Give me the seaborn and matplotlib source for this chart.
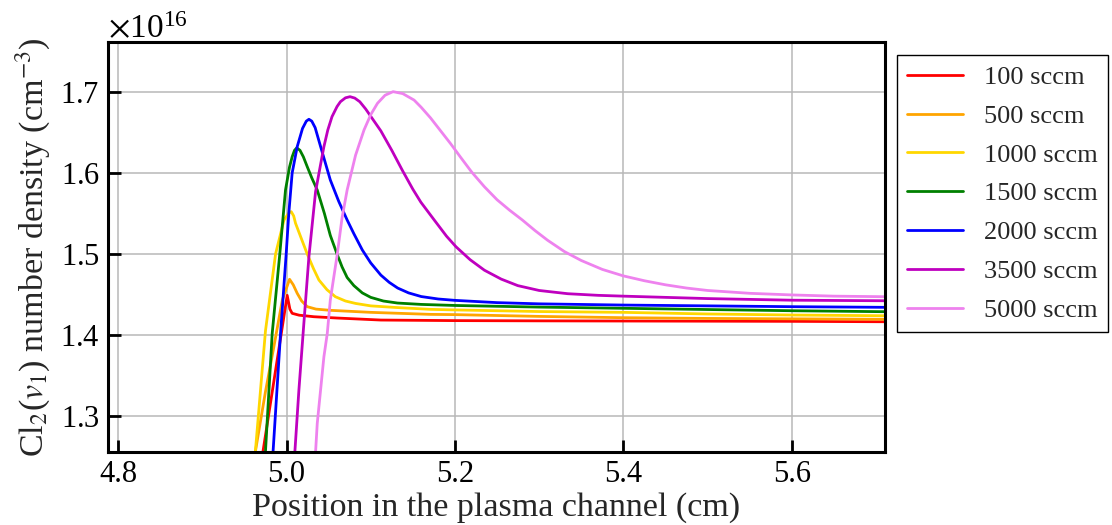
import matplotlib
matplotlib.use("Agg")
import matplotlib.pyplot as plt
import pandas as pd
import seaborn as sns

# Cl2(v1) density profiles along the channel, in units of 1e16 cm^-3
flows = ["100 sccm", "500 sccm", "1000 sccm", "1500 sccm",
         "2000 sccm", "3500 sccm", "5000 sccm"]
colors = ["red", "orange", "gold", "green", "blue", "m", "violet"]

x_100 = [4.965, 4.972, 4.985, 5.0008, 5.004, 5.0067, 5.015, 5.0325, 5.06,
         5.112, 5.2, 5.3, 5.4, 5.5, 5.6, 5.711]
y_100 = [1.20, 1.256, 1.343, 1.449, 1.432, 1.4268, 1.4245, 1.4226, 1.421,
         1.4185, 1.4178, 1.4175, 1.4173, 1.4171, 1.4169, 1.4164]

x_500 = [4.955, 4.963, 4.975, 4.985, 4.995, 5.0036, 5.008, 5.0127, 5.018,
         5.0246, 5.035, 5.052, 5.1, 5.171, 5.2, 5.3, 5.4, 5.5, 5.6, 5.711]
y_500 = [1.20, 1.256, 1.33, 1.3856, 1.4432, 1.4688, 1.462, 1.4515, 1.442,
         1.435, 1.432, 1.4305, 1.428, 1.4255, 1.4252, 1.423, 1.4214, 1.4205,
         1.420, 1.4194]

x_1000 = [4.955, 4.963, 4.975, 4.987, 4.997, 5.0026, 5.0056, 5.0085, 5.0107,
          5.018, 5.0246, 5.032, 5.0385, 5.048, 5.058, 5.07, 5.082, 5.1,
          5.13, 5.171, 5.2, 5.3, 5.4, 5.5, 5.6, 5.711]
y_1000 = [1.17, 1.256, 1.405, 1.5, 1.542, 1.5505, 1.5523, 1.547, 1.538,
          1.518, 1.5, 1.482, 1.4679, 1.456, 1.4473, 1.442, 1.439, 1.436,
          1.434, 1.4317, 1.431, 1.429, 1.428, 1.426, 1.4247, 1.4238]

x_1500 = [4.968, 4.975, 4.983, 4.992, 4.9988, 5.0035, 5.0067, 5.0095, 5.0122,
          5.016, 5.02, 5.0246, 5.03, 5.0365, 5.045, 5.052, 5.06, 5.066,
          5.072, 5.08, 5.09, 5.1, 5.115, 5.1317, 5.16, 5.2, 5.3, 5.4, 5.5,
          5.6, 5.711]
y_1500 = [1.12, 1.256, 1.402, 1.5, 1.579, 1.607, 1.620, 1.628, 1.631,
          1.628, 1.620, 1.6078, 1.594, 1.579, 1.55, 1.523, 1.5, 1.484,
          1.471, 1.461, 1.452, 1.4465, 1.442, 1.4395, 1.4378, 1.4365, 1.4345,
          1.433, 1.4315, 1.430, 1.4288]

x_2000 = [4.978, 4.984, 4.9929, 4.9996, 5.0027, 5.0067, 5.0127, 5.019,
          5.0235, 5.0266, 5.03, 5.034, 5.0405, 5.052, 5.062, 5.072, 5.08,
          5.09, 5.1, 5.112, 5.122, 5.132, 5.145, 5.16, 5.18, 5.2, 5.25,
          5.3, 5.4, 5.5, 5.6, 5.711]
y_2000 = [1.12, 1.2556, 1.402, 1.5, 1.550, 1.6, 1.6325, 1.655, 1.664,
          1.6663, 1.664, 1.656, 1.6325, 1.5914, 1.565, 1.542, 1.525,
          1.505, 1.489, 1.474, 1.465, 1.458, 1.452, 1.4475, 1.4445, 1.4428,
          1.440, 1.4385, 1.437, 1.436, 1.435, 1.4342]

x_3500 = [5.005, 5.0099, 5.0147, 5.0206, 5.0266, 5.0345, 5.04, 5.0444,
          5.049, 5.054, 5.06, 5.064, 5.07, 5.0754, 5.081, 5.087, 5.094,
          5.10, 5.112, 5.125, 5.1377, 5.15, 5.1595, 5.1754, 5.19, 5.2012,
          5.218, 5.235, 5.255, 5.2746, 5.30, 5.334, 5.37, 5.4, 5.45, 5.5,
          5.6, 5.711]
y_3500 = [1.16, 1.2556, 1.332, 1.4145, 1.4967, 1.577, 1.608, 1.6325,
          1.653, 1.6695, 1.682, 1.688, 1.6928, 1.6942, 1.6925, 1.688, 1.679,
          1.670, 1.652, 1.628, 1.603, 1.580, 1.564, 1.542, 1.522, 1.509,
          1.493, 1.480, 1.469, 1.461, 1.455, 1.451, 1.449, 1.448, 1.4465,
          1.445, 1.443, 1.4423]

x_5000 = [5.031, 5.0345, 5.0365, 5.0444, 5.0484, 5.052, 5.0603, 5.066, 5.072,
          5.082, 5.092, 5.1, 5.108, 5.117, 5.1265, 5.138, 5.1515, 5.16,
          5.171, 5.183, 5.195, 5.207, 5.22, 5.235, 5.25, 5.265, 5.28, 5.295,
          5.31, 5.33, 5.35, 5.375, 5.4, 5.425, 5.45, 5.475, 5.5, 5.55, 5.6,
          5.65, 5.711]
y_5000 = [1.19, 1.2556, 1.291, 1.3732, 1.402, 1.4432, 1.5, 1.545, 1.579,
          1.622, 1.653, 1.672, 1.686, 1.696, 1.7004, 1.698, 1.690, 1.681,
          1.668, 1.652, 1.636, 1.619, 1.601, 1.583, 1.567, 1.554, 1.542,
          1.529, 1.517, 1.503, 1.492, 1.481, 1.473, 1.467, 1.462, 1.458,
          1.455, 1.4515, 1.4495, 1.448, 1.4473]

xs = [x_100, x_500, x_1000, x_1500, x_2000, x_3500, x_5000]
ys = [y_100, y_500, y_1000, y_1500, y_2000, y_3500, y_5000]

frames = []
for name, xv, yv in zip(flows, xs, ys):
    frames.append(pd.DataFrame({"pos": xv,
                                "dens": [v * 1e16 for v in yv],
                                "flow": name}))
df = pd.concat(frames, ignore_index=True)

sns.set_style("whitegrid")
plt.rcParams["font.family"] = ["Liberation Serif", "DejaVu Serif"]
plt.rcParams["mathtext.fontset"] = "stix"
plt.rcParams["axes.formatter.use_mathtext"] = True

fig = plt.figure(figsize=(11.12, 5.25), dpi=100)
ax = fig.add_axes([0.0971, 0.139, 0.6988, 0.781])

sns.lineplot(data=df, x="pos", y="dens", hue="flow", hue_order=flows,
             palette=colors, sort=False, estimator=None, linewidth=2.0, ax=ax)

ax.set_xlim(4.788, 5.7107)
ax.set_ylim(1.2556e16, 1.7617e16)
ax.set_xticks([4.8, 5.0, 5.2, 5.4, 5.6])
ax.set_yticks([1.3e16, 1.4e16, 1.5e16, 1.6e16, 1.7e16])
ax.set_xticklabels(["4.8", "5.0", "5.2", "5.4", "5.6"])

ax.grid(True, color="#b8b8b8", linewidth=1.1)
for s in ax.spines.values():
    s.set_color("black")
    s.set_linewidth(2.2)
ax.tick_params(direction="in", length=9, width=2, labelsize=22,
               colors="black", pad=6, left=True, bottom=True)
ax.yaxis.get_offset_text().set_fontsize(24)

ax.set_xlabel("Position in the plasma channel (cm)", fontsize=24.5,
              labelpad=2)
ax.set_ylabel(r"Cl$_2$($v_1$) number density (cm$^{-3}$)", fontsize=24.5,
              labelpad=6)

ax.legend(loc="upper left", bbox_to_anchor=(1.015, 0.968), fontsize=19,
          frameon=True, fancybox=False, edgecolor="black", framealpha=1,
          handlelength=2.1, handletextpad=0.8, labelspacing=0.58,
          borderpad=0.4, borderaxespad=0)
ax.get_legend().get_frame().set_linewidth(1.0)

fig.savefig("out.png", dpi=100)
